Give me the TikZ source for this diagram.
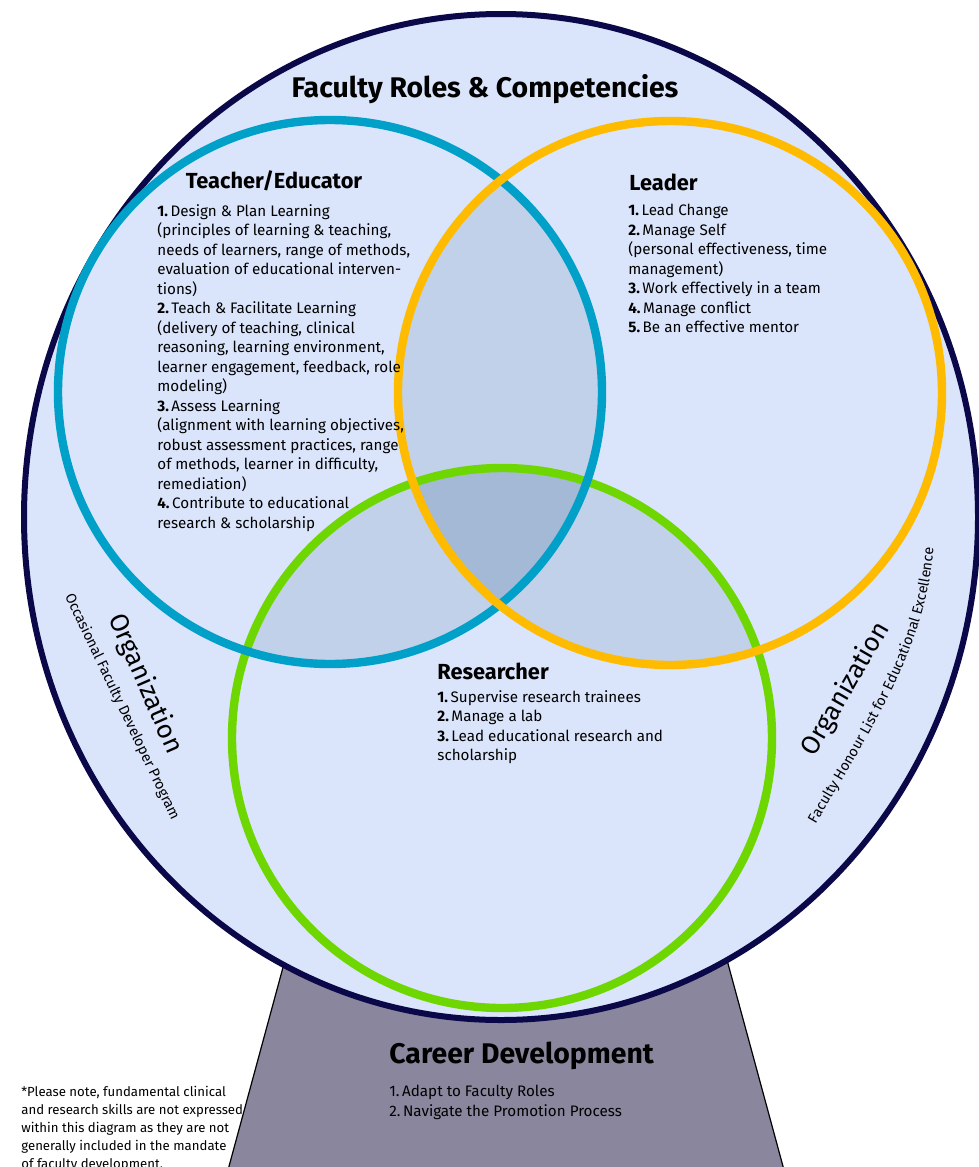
\documentclass[tikz,border=0pt]{standalone}
\usepackage{fontspec}
\setmainfont{Fira Sans}
\usetikzlibrary{decorations.text}

\definecolor{globefill}{RGB}{218,228,250}
\definecolor{globeline}{RGB}{10,8,72}
\definecolor{pairfill}{RGB}{193,209,234}
\definecolor{triplefill}{RGB}{163,185,214}
\definecolor{teacherring}{RGB}{0,160,200}
\definecolor{leaderring}{RGB}{255,187,0}
\definecolor{researchring}{RGB}{110,214,0}
\definecolor{standfill}{RGB}{138,134,158}

\begin{document}
\begin{tikzpicture}[x=0.5pt, y=-0.5pt,
    heading/.style={font=\bfseries\fontsize{14.2}{16}\selectfont, inner sep=0pt},
    role/.style={font=\bfseries\fontsize{10.9}{12}\selectfont, inner sep=0pt},
    items/.style={align=left, anchor=north west, inner sep=0pt, font=\fontsize{7.6}{9.75}\selectfont},
    org/.style={font=\fontsize{13}{16}\selectfont, inner sep=0pt},
    ring/.style={line width=4.2pt}]
            \useasboundingbox (0,0) rectangle (979,1167);

            % stand under the globe
            \draw[fill=standfill, line width=0.6pt] (285,960) -- (727,960) -- (784,1170) -- (228,1170) -- cycle;

            % globe
            \draw[fill=globefill, draw=globeline, line width=3pt] (501,517) ellipse [x radius=477, y radius=503];

            % overlaps of the three roles
            \begin{scope}
                \clip (330,392) circle [radius=272];
                \fill[pairfill] (670,393) circle [radius=272];
                \fill[pairfill] (502,738) circle [radius=270];
            \end{scope}
            \begin{scope}
                \clip (670,393) circle [radius=272];
                \fill[pairfill] (502,738) circle [radius=270];
            \end{scope}
            \begin{scope}
                \clip (330,392) circle [radius=272];
                \clip (670,393) circle [radius=272];
                \fill[triplefill] (502,738) circle [radius=270];
            \end{scope}

            \draw[ring, researchring] (502,738) circle [radius=270];
            \draw[ring, teacherring] (330,392) circle [radius=272];
            \draw[ring, leaderring] (670,393) circle [radius=272];

            \node[heading] (title) at (485,89) {Faculty Roles \& Competencies};

            \node[role] (teacher) at (274,181) {Teacher/Educator};
            \node[items] (teacherlist) at (157,204) {\textbf{1.}\,Design \& Plan Learning\\
                (principles of learning \& teaching,\\
                needs of learners, range of methods,\\
                evaluation of educational interven-\\
                tions)\\
                \textbf{2.}\,Teach \& Facilitate Learning\\
                (delivery of teaching, clinical\\
                reasoning, learning environment,\\
                learner engagement, feedback, role\\
                modeling)\\
                \textbf{3.}\,Assess Learning\\
                (alignment with learning objectives,\\
                robust assessment practices, range\\
                of methods, learner in difficulty,\\
                remediation)\\
                \textbf{4.}\,Contribute to educational\\
                research \& scholarship};

            \node[role, anchor=west] (leader) at (629,182) {Leader};
            \node[items] (leaderlist) at (628,204) {\textbf{1.}\,Lead Change\\
                \textbf{2.}\,Manage Self\\
                (personal effectiveness, time\\
                management)\\
                \textbf{3.}\,Work effectively in a team\\
                \textbf{4.}\,Manage conflict\\
                \textbf{5.}\,Be an effective mentor};

            \node[role, anchor=west] (researcher) at (437,671) {Researcher};
            \node[items] (researchlist) at (437,690) {\textbf{1.}\,Supervise research trainees\\
                \textbf{2.}\,Manage a lab\\
                \textbf{3.}\,Lead educational research and\\
                scholarship};

            % organization labels on both sides
            \node[org, rotate=-66.5] (orgleft) at (145,684) {Organization};
            \node[rotate=-64.5, font=\fontsize{7.2}{9}\selectfont, inner sep=0pt] (orgleftsub) at (122,707) {Occasional Faculty Developer Program};
            \node[org, rotate=60] (orgright) at (846,689) {Organization};
            \path[decorate, decoration={text along path, text align=center,
                text={|\fontsize{7.2}{9}\selectfont|Faculty Honour List for Educational Excellence}}]
                (812,831) .. controls (872,727) and (928,647) .. (934,541);

            \node[heading, anchor=west] (career) at (389,1056) {Career Development};
            \node[items] (careerlist) at (389,1085) {1.\,Adapt to Faculty Roles\\
                2.\,Navigate the Promotion Process};

            \node[items, font=\fontsize{6.6}{9}\selectfont] (note) at (21,1086) {*Please note, fundamental clinical\\
                and research skills are not expressed\\
                within this diagram as they are not\\
                generally included in the mandate\\
                of faculty development.};
        \end{tikzpicture}
\end{document}
